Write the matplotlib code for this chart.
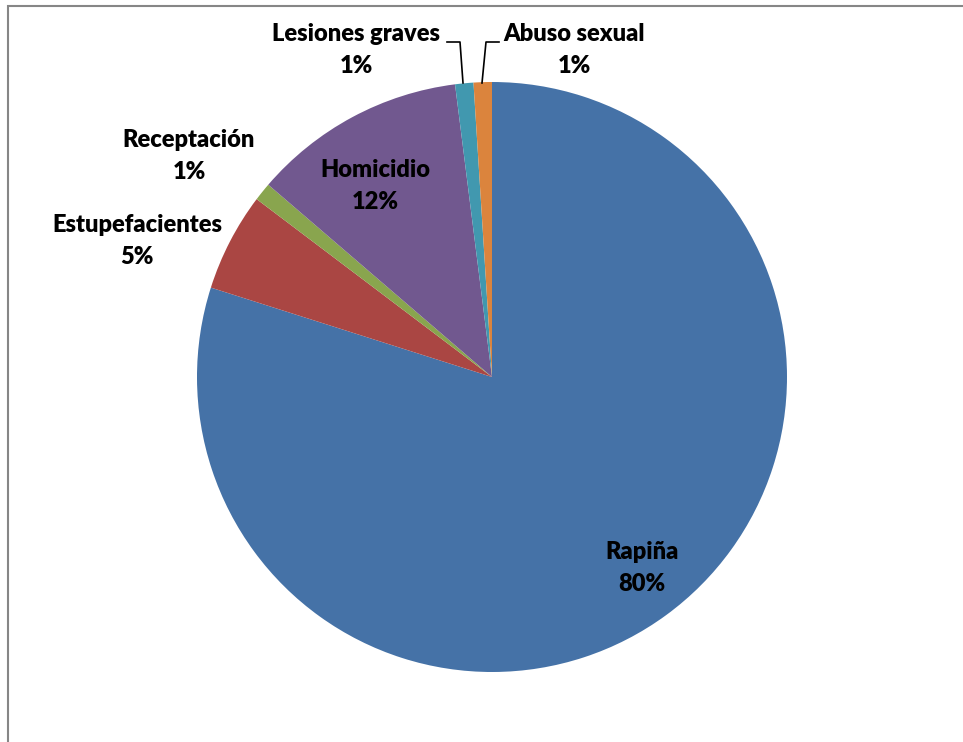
import matplotlib.pyplot as plt
from matplotlib.patches import Rectangle
import numpy as np

# Data (percent shares, clockwise from 12 o'clock)
categories = ['Rapiña', 'Estupefacientes', 'Receptación', 'Homicidio',
              'Lesiones graves', 'Abuso sexual']
values = [79.9, 5.4, 1.0, 11.7, 1.0, 1.0]
pct_labels = ['80%', '5%', '1%', '12%', '1%', '1%']
colors = ['#4572A7', '#AA4643', '#89A54E', '#71588F', '#4198AF', '#DB843D']

W, H = 963, 742
fig = plt.figure(figsize=(W / 100, H / 100), dpi=100)

# chart area frame (only left/top edges visible)
fig.patches.append(Rectangle((8 / W, -0.1), 1.2, 1 - 6 / H + 0.1,
                             transform=fig.transFigure, fill=False,
                             edgecolor='#868686', linewidth=1.5))

cx, cy, r = 492, 377, 295
ax = fig.add_axes([(cx - r) / W, (H - cy - r) / H, 2 * r / W, 2 * r / H])
ax.pie(values, colors=colors, startangle=90, counterclock=False, radius=1,
       wedgeprops=dict(linewidth=0))
ax.set_xlim(-1, 1)
ax.set_ylim(-1, 1)
ax.axis('off')


def to_data(px, py):
    return (px - cx) / r, (cy - py) / r


label_px = [(642, 568), (137, 241), (189, 156), (375, 186), (356, 50), (574, 50)]
for name, pct, (px, py) in zip(categories, pct_labels, label_px):
    x, y = to_data(px, py)
    ax.text(x, y, f'{name}\n{pct}', ha='center', va='center',
            fontsize=17, fontweight='heavy', family=['Lato', 'DejaVu Sans'],
            linespacing=1.6, clip_on=False)

# leader lines for the two thin slices at the top
for pts in [[(447, 42), (460, 42), (463, 83)],
            [(499, 42), (486, 42), (482, 83)]]:
    xs, ys = zip(*[to_data(*p) for p in pts])
    ax.plot(xs, ys, color='black', linewidth=1.2, clip_on=False)

fig.savefig('out.png', dpi=100)
